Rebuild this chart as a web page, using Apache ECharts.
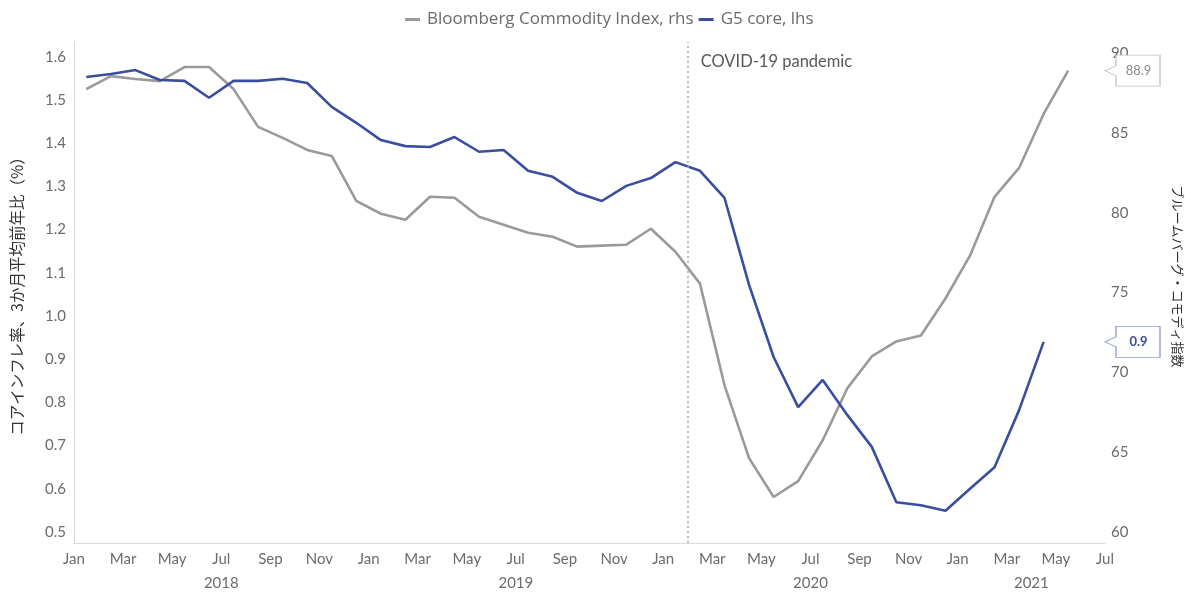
<!DOCTYPE html>
<html>
<head>
<meta charset="utf-8">
<script src="https://cdn.jsdelivr.net/npm/echarts@6/dist/echarts.min.js"></script>
<style>
html,body{margin:0;padding:0;background:#fff;}
#chart{width:1185px;height:593px;}
</style>
</head>
<body>
<div id="chart"></div>
<script>
// ---- data (monthly, Jan 2018 = index 0) ----
const monthTickLabels = ['Jan','Mar','May','Jul','Sep','Nov','Jan','Mar','May','Jul','Sep','Nov','Jan','Mar','May','Jul','Sep','Nov','Jan','Mar','May','Jul'];
const yearLabels = ['2018','2019','2020','2021'];
const yearCenters = [6, 18, 30, 39];
const leftTicks = [0.5,0.6,0.7,0.8,0.9,1.0,1.1,1.2,1.3,1.4,1.5,1.6];
const rightTicks = [60,65,70,75,80,85,90];
const covidMonth = 25;
const bloombergCommodity = [87.75,88.56,88.38,88.25,89.13,89.13,87.75,85.38,84.69,83.94,83.56,80.75,
  79.94,79.56,81.0,80.94,79.75,79.25,78.75,78.5,77.88,77.94,78.0,79.0,
  77.56,75.56,69.19,64.63,62.19,63.19,65.75,69.0,71.0,71.94,72.31,74.63,
  77.31,81.0,82.81,86.19,88.9];
const g5Core = [1.553,1.560,1.569,1.546,1.544,1.505,1.544,1.544,1.549,1.539,1.484,1.447,
  1.407,1.393,1.391,1.414,1.380,1.384,1.336,1.322,1.285,1.266,1.301,1.319,
  1.356,1.336,1.273,1.072,0.905,0.789,0.852,0.771,0.697,0.569,0.562,0.549,
  0.600,0.650,0.782,0.94];

const FONT = 'Lato, "Noto Sans", sans-serif';
const LEGFONT = '"Open Sans", Lato, sans-serif';
const JP = '"Noto Sans CJK JP", sans-serif';
const GRAY = '#9a9a9a';
const BLUE = '#3a4e9f';
const LABEL = '#6b6b6b';
const AXIS = '#d9d9d9';

const toPts = arr => arr.map((v, i) => [i + 0.5, v]);
const callout = 'path://M0,15.5 L11,10.5 L11,0 L55,0 L55,31 L11,31 L11,20.5 Z';

const chart = echarts.init(document.getElementById('chart'), null, {renderer: 'canvas'});
chart.setOption({
  animation: false,
  backgroundColor: '#fff',
  textStyle: {fontFamily: FONT},
  legend: {
    top: 6, left: 400,
    itemGap: 5, itemWidth: 15, itemHeight: 3, icon: 'rect',
    textStyle: {fontFamily: LEGFONT, fontSize: 17, color: LABEL, padding: [0, 0, 0, 2]},
    data: ['Bloomberg Commodity Index, rhs', 'G5 core, lhs']
  },
  grid: {left: 74, right: 80, top: 42, bottom: 50, outerBoundsMode: 'none', containLabel: false},
  xAxis: [{
    type: 'value', min: 0, max: 42, interval: 2,
    axisLine: {show: true, lineStyle: {color: AXIS, width: 1}},
    axisTick: {show: false}, splitLine: {show: false},
    axisLabel: {color: LABEL, fontSize: 15, fontFamily: FONT, margin: 9,
      formatter: v => monthTickLabels[Math.round(v / 2)] || ''}
  }, {
    type: 'value', min: 0, max: 42, position: 'bottom',
    axisLine: {show: false}, axisTick: {show: false}, splitLine: {show: false},
    axisLabel: {color: LABEL, fontSize: 15, fontFamily: FONT, margin: 33,
      customValues: yearCenters,
      formatter: v => yearLabels[yearCenters.indexOf(v)] || ''}
  }],
  yAxis: [{
    type: 'value', min: 0.4745, max: 1.634, position: 'left',
    axisLine: {show: true, lineStyle: {color: AXIS, width: 1}},
    axisTick: {show: false}, splitLine: {show: false},
    axisLabel: {color: LABEL, fontSize: 15, fontFamily: FONT, margin: 8,
      customValues: leftTicks, formatter: v => v.toFixed(1)},
    name: 'コアインフレ率、3か月平均前年比（%）',
    nameLocation: 'middle', nameGap: 49, nameRotate: 90,
    nameTextStyle: {fontFamily: JP, fontSize: 15.5, color: '#333'}
  }, {
    type: 'value', min: 59.31, max: 90.7, position: 'right',
    axisLine: {show: true, lineStyle: {color: AXIS, width: 1}},
    axisTick: {show: false}, splitLine: {show: false},
    axisLabel: {color: LABEL, fontSize: 15, fontFamily: FONT, margin: 6,
      customValues: rightTicks, formatter: v => String(v)},
    name: 'ブルームバーグ・コモディ指数',
    nameLocation: 'middle', nameGap: 66, nameRotate: -90,
    nameTextStyle: {fontFamily: JP, fontSize: 13, color: '#333', padding: [0, 32, 0, 0]}
  }],
  series: [{
    name: 'Bloomberg Commodity Index, rhs',
    type: 'line', xAxisIndex: 0, yAxisIndex: 1,
    data: toPts(bloombergCommodity),
    symbol: 'none', lineStyle: {color: GRAY, width: 2.6}, itemStyle: {color: GRAY},
    z: 2,
    markPoint: {
      symbol: callout, symbolSize: [55, 31], symbolOffset: [27.5, 0],
      itemStyle: {color: '#fff', borderColor: '#c4c4c4', borderWidth: 1},
      label: {show: true, position: 'inside', offset: [6, 0], color: '#8a8a8a', fontSize: 13, fontFamily: FONT,
        formatter: () => bloombergCommodity[bloombergCommodity.length - 1].toFixed(1)},
      data: [{coord: [42, bloombergCommodity[bloombergCommodity.length - 1]]}]
    }
  }, {
    name: 'G5 core, lhs',
    type: 'line', xAxisIndex: 0, yAxisIndex: 0,
    data: toPts(g5Core),
    symbol: 'none', lineStyle: {color: BLUE, width: 2.6}, itemStyle: {color: BLUE},
    z: 3,
    markLine: {
      silent: true, symbol: 'none',
      lineStyle: {color: '#a6a6a6', width: 1.5, type: [2, 3]},
      label: {show: false},
      data: [{xAxis: covidMonth}]
    },
    markPoint: {
      data: [{
        coord: [42, g5Core[g5Core.length - 1]],
        symbol: callout, symbolSize: [55, 31], symbolOffset: [27.5, 0],
        itemStyle: {color: '#fff', borderColor: '#8e9bd0', borderWidth: 1},
        label: {show: true, position: 'inside', offset: [6, 0], color: BLUE, fontSize: 13, fontWeight: 'bold', fontFamily: FONT,
          formatter: () => g5Core[g5Core.length - 1].toFixed(1)}
      }, {
        coord: [covidMonth, 1.588],
        symbol: 'circle', symbolSize: 0,
        itemStyle: {color: 'transparent'},
        label: {show: true, position: 'right', distance: 13, color: '#595959', fontSize: 16.5, fontFamily: FONT,
          formatter: 'COVID-19 pandemic'}
      }]
    }
  }]
});
</script>
</body>
</html>
